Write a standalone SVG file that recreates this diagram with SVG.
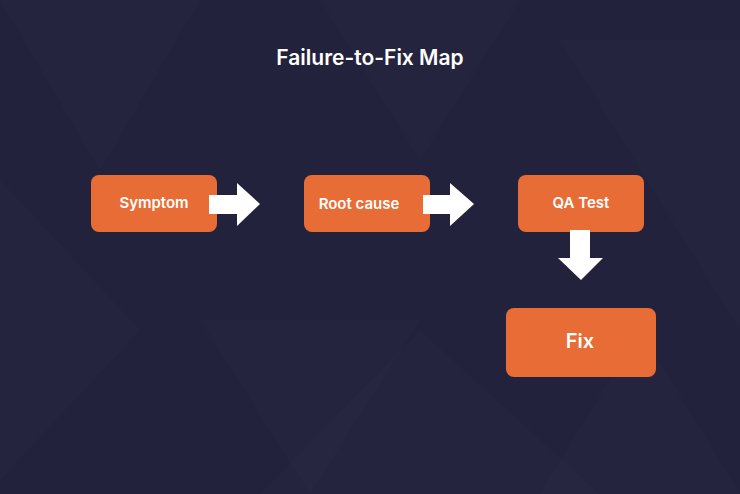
<svg xmlns="http://www.w3.org/2000/svg" width="740" height="494" viewBox="0 0 740 494">
<style>
.node{fill:#e86c36}
.lbl{font-family:"Inter","Open Sans",sans-serif;font-weight:600;fill:#ffffff;text-anchor:middle}
.arr{fill:#ffffff}
.tri{fill:#ffffff;opacity:0.012}
</style>
<rect width="740" height="494" fill="#22223c"/>
<g id="bg">
<polygon class="tri" points="0,0 200,0 100,170"/>
<polygon class="tri" points="320,0 520,0 420,160"/>
<polygon class="tri" points="560,40 740,40 740,330"/>
<polygon class="tri" points="0,180 140,330 0,480"/>
<polygon class="tri" points="200,320 420,320 310,494"/>
<polygon class="tri" points="420,330 600,494 260,494"/>
<polygon class="tri" points="640,330 740,494 540,494"/>
</g>
<text class="lbl" x="370" y="65" font-size="21" font-weight="800">Failure-to-Fix Map</text>
<g id="symptom"><rect class="node" x="91" y="175" width="126" height="57" rx="8"/><text class="lbl" x="154" y="208" font-size="15">Symptom</text></g>
<g id="rootcause"><rect class="node" x="304" y="175" width="126" height="57" rx="8"/><text class="lbl" x="359" y="209" font-size="15">Root cause</text></g>
<g id="qatest"><rect class="node" x="518" y="175" width="126" height="57" rx="8"/><text class="lbl" x="581" y="208" font-size="15">QA Test</text></g>
<g id="fix"><rect class="node" x="506" y="308" width="150" height="69" rx="8"/><text class="lbl" x="580" y="348" font-size="20" font-weight="500">Fix</text></g>
<g id="connectors">
<polygon class="arr" points="209,195 237,195 237,183 260,204 237,226 237,214 209,214"/>
<polygon class="arr" points="423,195 450,195 450,183 474,204 450,226 450,214 423,214"/>
<polygon class="arr" points="570,230 590,230 590,258 603,258 581,280 558,258 570,258"/>
</g>
</svg>
